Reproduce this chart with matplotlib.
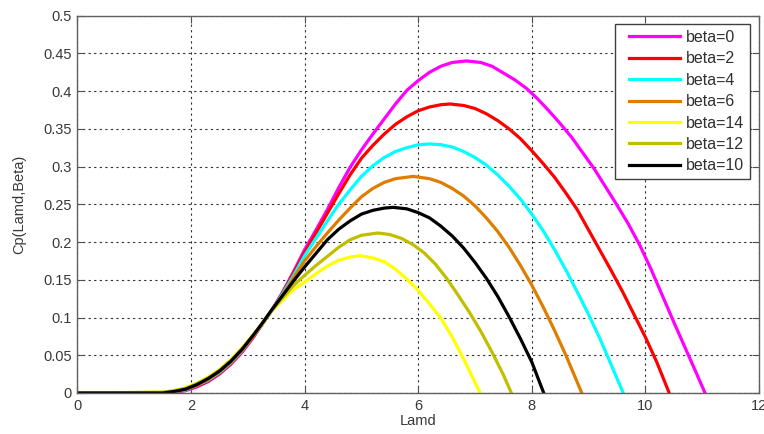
import matplotlib
matplotlib.use('Agg')
import matplotlib.pyplot as plt
from matplotlib.patches import Rectangle

# ── Data ──────────────────────────────────────────────
low_lam = [0, 1.5, 1.7, 1.9, 2.1, 2.3, 2.5, 2.7, 2.9, 3.1, 3.25]

# beta = 0
lam_b0 = low_lam + [3.4, 3.6, 3.8, 4.0, 4.2, 4.4, 4.6, 4.8, 5.0, 5.2, 5.4, 5.6, 5.8, 6.0,
                    6.2, 6.4, 6.6, 6.85, 7.1, 7.3, 7.5, 7.7, 7.9, 8.1, 8.3, 8.5, 8.7, 8.9,
                    9.1, 9.3, 9.5, 9.7, 9.9, 10.1, 10.3, 10.5, 10.7, 10.9, 11.05]
cp_b0 = [0, 0, 0.001, 0.003, 0.008, 0.015, 0.025, 0.038, 0.054, 0.074, 0.091,
         0.107, 0.132, 0.160, 0.190, 0.216, 0.243, 0.272, 0.299, 0.322, 0.343, 0.363, 0.383,
         0.401, 0.414, 0.425, 0.433, 0.438, 0.440, 0.438, 0.433, 0.424, 0.415, 0.404, 0.390,
         0.374, 0.357, 0.339, 0.318, 0.297, 0.273, 0.249, 0.224, 0.196, 0.164, 0.129, 0.094,
         0.060, 0.026, 0]
# beta = 2
lam_b2 = low_lam + [3.4, 3.6, 3.8, 4.0, 4.2, 4.4, 4.6, 4.8, 5.0, 5.2, 5.4, 5.6, 5.8, 6.0,
                    6.2, 6.4, 6.56, 6.8, 7.0, 7.2, 7.4, 7.6, 7.8, 8.0, 8.2, 8.4, 8.6, 8.8,
                    9.0, 9.2, 9.4, 9.6, 9.8, 10.0, 10.2, 10.42]
cp_b2 = [0, 0, 0.001, 0.004, 0.009, 0.016, 0.026, 0.039, 0.055, 0.075, 0.091,
         0.107, 0.131, 0.158, 0.186, 0.212, 0.238, 0.264, 0.289, 0.311, 0.328, 0.343, 0.356,
         0.366, 0.374, 0.379, 0.382, 0.383, 0.381, 0.377, 0.370, 0.361, 0.350, 0.337, 0.321,
         0.304, 0.286, 0.265, 0.243, 0.216, 0.189, 0.162, 0.134, 0.104, 0.074, 0.041, 0]
# beta = 4
lam_b4 = low_lam + [3.4, 3.6, 3.8, 4.0, 4.2, 4.4, 4.6, 4.8, 5.0, 5.2, 5.4, 5.6, 5.8, 6.0,
                    6.21, 6.4, 6.6, 6.8, 7.0, 7.2, 7.4, 7.6, 7.8, 8.0, 8.2, 8.4, 8.6, 8.8,
                    9.0, 9.2, 9.4, 9.61]
cp_b4 = [0, 0, 0.002, 0.004, 0.010, 0.017, 0.027, 0.040, 0.056, 0.076, 0.091,
         0.107, 0.130, 0.155, 0.182, 0.205, 0.228, 0.250, 0.269, 0.287, 0.301, 0.312, 0.320,
         0.325, 0.329, 0.330, 0.329, 0.326, 0.320, 0.312, 0.302, 0.289, 0.274, 0.257, 0.237,
         0.215, 0.190, 0.163, 0.134, 0.104, 0.072, 0.037, 0]
# beta = 6
lam_b6 = low_lam + [3.4, 3.6, 3.8, 4.0, 4.2, 4.4, 4.6, 4.8, 5.0, 5.2, 5.4, 5.6, 5.91, 6.2,
                    6.4, 6.6, 6.8, 7.0, 7.2, 7.4, 7.6, 7.8, 8.0, 8.2, 8.4, 8.6, 8.88]
cp_b6 = [0, 0, 0.002, 0.005, 0.010, 0.018, 0.028, 0.041, 0.057, 0.076, 0.091,
         0.107, 0.128, 0.152, 0.175, 0.194, 0.212, 0.229, 0.245, 0.260, 0.271, 0.279, 0.284,
         0.287, 0.284, 0.279, 0.271, 0.261, 0.248, 0.232, 0.214, 0.193, 0.169, 0.143, 0.114,
         0.083, 0.050, 0]
# beta = 14
lam_b14 = low_lam + [3.4, 3.6, 3.8, 4.0, 4.2, 4.4, 4.6, 4.8, 4.97, 5.2, 5.4, 5.6, 5.8, 6.0,
                     6.2, 6.4, 6.6, 6.8, 7.0, 7.09]
cp_b14 = [0, 0.001, 0.003, 0.007, 0.013, 0.021, 0.031, 0.044, 0.060, 0.078, 0.092,
          0.107, 0.122, 0.137, 0.147, 0.158, 0.168, 0.176, 0.180, 0.182, 0.179, 0.174, 0.164,
          0.151, 0.136, 0.118, 0.099, 0.074, 0.045, 0.014, 0]
# beta = 12
lam_b12 = low_lam + [3.4, 3.6, 3.8, 4.0, 4.2, 4.4, 4.6, 4.8, 5.0, 5.29, 5.5, 5.7, 5.9, 6.1,
                     6.3, 6.5, 6.7, 6.9, 7.1, 7.3, 7.5, 7.64]
cp_b12 = [0, 0.001, 0.003, 0.006, 0.012, 0.020, 0.030, 0.043, 0.059, 0.077, 0.092,
          0.107, 0.125, 0.142, 0.156, 0.169, 0.181, 0.193, 0.203, 0.209, 0.212, 0.210, 0.205,
          0.197, 0.186, 0.171, 0.152, 0.130, 0.107, 0.082, 0.054, 0.024, 0]
# beta = 10
lam_b10 = low_lam + [3.4, 3.6, 3.8, 4.0, 4.2, 4.4, 4.6, 4.8, 5.0, 5.2, 5.4, 5.56, 5.8, 6.0,
                     6.2, 6.4, 6.6, 6.8, 7.0, 7.2, 7.4, 7.6, 7.8, 8.0, 8.21]
cp_b10 = [0, 0, 0.002, 0.005, 0.011, 0.019, 0.029, 0.042, 0.058, 0.077, 0.092,
          0.108, 0.128, 0.148, 0.167, 0.185, 0.203, 0.217, 0.228, 0.237, 0.242, 0.245, 0.246,
          0.244, 0.239, 0.232, 0.221, 0.208, 0.192, 0.173, 0.152, 0.128, 0.101, 0.072, 0.041, 0]

labels = ['beta=0', 'beta=2', 'beta=4', 'beta=6', 'beta=14', 'beta=12', 'beta=10']
colors = ['#ff00ff', '#ff0000', '#00ffff', '#de7d00', '#ffff00', '#bfbf00', '#000000']
series = [(lam_b0, cp_b0), (lam_b2, cp_b2), (lam_b4, cp_b4), (lam_b6, cp_b6),
          (lam_b14, cp_b14), (lam_b12, cp_b12), (lam_b10, cp_b10)]

xticks = [0, 2, 4, 6, 8, 10, 12]
yticks = [0, 0.05, 0.1, 0.15, 0.2, 0.25, 0.3, 0.35, 0.4, 0.45, 0.5]
ytick_labels = ['0', '0.05', '0.1', '0.15', '0.2', '0.25', '0.3', '0.35', '0.4', '0.45', '0.5']

# ── Plot ──────────────────────────────────────────────
plt.rcParams['font.family'] = ['Liberation Sans', 'DejaVu Sans']

fig = plt.figure(figsize=(7.64, 4.34), dpi=100)
ax = fig.add_axes([0.1014, 0.0945, 0.892, 0.8694])

for (x, y), lab, c in zip(series, labels, colors):
    ax.plot(x, y, color=c, linewidth=2.3, label=lab, solid_joinstyle='round')

ax.set_xlim(0, 12)
ax.set_ylim(0, 0.5)
ax.set_xticks(xticks)
ax.set_xticklabels([str(t) for t in xticks])
ax.set_yticks(yticks)
ax.set_yticklabels(ytick_labels)
ax.tick_params(direction='in', length=5, width=0.8, top=True, right=True,
               labelsize=10.5, labelcolor='#383838', color='#505050', pad=4)
ax.grid(True, color='#303030', linestyle=(0, (2, 3)), linewidth=0.8)
for s in ax.spines.values():
    s.set_color('#606060')
    s.set_linewidth(1.0)

ax.set_xlabel('Lamd', fontsize=10.5, color='#383838', labelpad=1)
ax.set_ylabel('Cp(Lamd,Beta)', fontsize=10.5, color='#383838', labelpad=12)

leg = ax.legend(loc='upper right', fontsize=11.5, handlelength=3.2, labelspacing=0.4,
                borderaxespad=0.55, fancybox=False, framealpha=1, handletextpad=0.4,
                borderpad=0.35)
leg.get_frame().set_visible(False)
leg.set_zorder(6)
for t in leg.get_texts():
    t.set_color('#303030')

# MATLAB-style legend box: wider padding on the left than the legend's own frame
fig.canvas.draw()
bb = leg.get_frame().get_window_extent().transformed(fig.transFigure.inverted())
pad_l = 8 / fig.bbox.width
box = Rectangle((bb.x0 - pad_l, bb.y0), bb.width + pad_l, bb.height,
                transform=fig.transFigure, facecolor='white', edgecolor='#404040',
                linewidth=1.0, zorder=5.5, clip_on=False)
ax.add_artist(box)

plt.savefig('out.png', dpi=100)
